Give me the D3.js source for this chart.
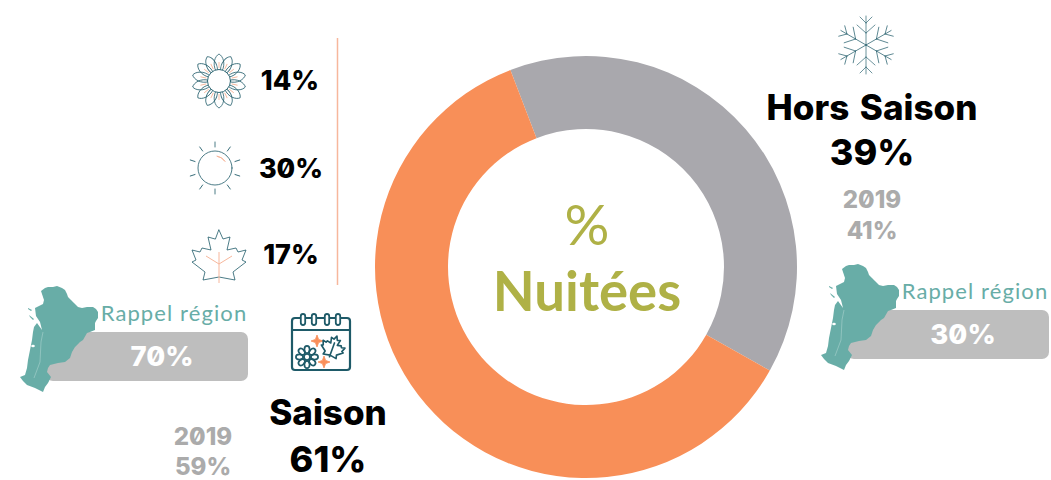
<!DOCTYPE html>
<html><head><meta charset="utf-8">
<script src="https://cdn.jsdelivr.net/npm/d3@7/dist/d3.min.js"></script>
<style>
html,body{margin:0;padding:0;background:#fff;overflow:hidden}
svg{display:block}
.h{font-family:Inter,sans-serif;font-weight:800;font-feature-settings:"zero" 1;text-anchor:middle}
</style></head><body><svg id="c" width="1051" height="480"></svg>
<script>
const segments = ["Hors Saison","Saison"];
const shares = [39,61];
const shares2019 = [41,59];
const regionShares = [30,70];
const segmentColors = ["#A9A8AD","#F88F58"];
const subSeasons = ["printemps","été","automne"];
const subShares = [14,30,17];
const centerLines = ["%","Nuitées"];
const regionLabel = "Rappel région";
const yearLabel = "2019";
const mapOutline = [[26,11],[30,8],[33,7],[38,7],[42,6],[47,8],[50,10],[52,14],[53,17],[56,20],[59,23],[63,27],[67,28],[72,27],[78,27],[81,29],[83,32],[83,38],[81,41],[80,43],[80,50],[75,52],[72,53],[68,60],[65,62],[60,67],[57,72],[55,78],[50,82],[43,83],[35,85],[33,88],[32,92],[36,97],[33,103],[30,107],[28,112],[24,110],[20,108],[12,105],[8,101],[5,97],[10,95],[12,88],[13,80],[15,70],[17,60],[18,52],[19,47],[22,43],[27,50],[25,42],[21,36],[20,28],[24,26],[28,24],[29,20]];
const islands = [[[13,28],[17,30],[16,31],[13,29]],[[14,35],[19,39],[18,40],[15,37]]];

const svg = d3.select("#c");
const TEAL="#1E5A68", SOFT="#F7B79C", MAP="#68ADA7", BAR="#BEBEBE", GREY="#ABABAB";

const cx=586, cy=267;
const pie=d3.pie().sort(null).startAngle(-21*Math.PI/180).endAngle(339*Math.PI/180);
const arc=d3.arc().innerRadius(138).outerRadius(211);
svg.append("g").attr("transform",`translate(${cx},${cy})`).selectAll("path").data(pie(shares)).join("path")
  .attr("d",arc).attr("fill",(d,i)=>segmentColors[i]);

function T(s,x,y,size,fill){return svg.append("text").attr("class","h").attr("x",x).attr("y",y).attr("font-size",size).attr("fill",fill).text(s);}
svg.append("text").attr("x",587).attr("y",245).attr("text-anchor","middle").attr("font-family","Lato").attr("font-weight",400).attr("font-size",56).attr("fill","#AFB146").text(centerLines[0]);
svg.append("text").attr("x",587).attr("y",311).attr("text-anchor","middle").attr("font-family","Lato").attr("font-weight",700).attr("font-size",54.5).attr("fill","#AFB146").text(centerLines[1]);

T(segments[0],872,120,35,"#000").attr("word-spacing",3);
T(shares[0]+"%",872,165,36,"#000");
T(segments[1],328,425,35,"#000");
T(shares[1]+"%",328,472,36,"#000");
T(yearLabel,872,208,24,GREY);
T(shares2019[0]+"%",872,239,24,GREY);
T(yearLabel,203,445,24,GREY);
T(shares2019[1]+"%",203,475,24,GREY);

[[290,90],[291,178],[291,264]].forEach((p,i)=>T(subShares[i]+"%",p[0],p[1],27,"#000"));
svg.append("line").attr("x1",337.5).attr("x2",337.5).attr("y1",38).attr("y2",285).attr("stroke",SOFT).attr("stroke-width",1.5);

const mapLine=d3.line();
[[1,0,0],[0,801,-22]].forEach(([i,dx,dy])=>{
  const g=svg.append("g").attr("transform",`translate(${dx},${dy})`);
  g.append("rect").attr("x",46).attr("y",332).attr("width",202).attr("height",49).attr("rx",7).attr("fill",BAR);
  const m=g.append("g").attr("transform","translate(15,280)");
  m.append("path").attr("d",mapLine(mapOutline)+"Z").attr("fill",MAP);
  islands.forEach(s=>m.append("path").attr("d",mapLine(s)+"Z").attr("fill",MAP));
  m.append("path").attr("d","M28 52L26 62 25 82 19 98").attr("fill","none").attr("stroke","#A9D2CE").attr("stroke-width",.6);
  m.append("ellipse").attr("cx",18).attr("cy",66).attr("rx",1.8).attr("ry",1.2).attr("fill","#fff");
  g.append("text").attr("x",174).attr("y",321).attr("text-anchor","middle").attr("font-family","Lato").attr("font-size",22).attr("letter-spacing",1.1).attr("fill",MAP).text(regionLabel);
  g.append("text").attr("class","h").attr("x",162).attr("y",366).attr("font-size",27.5).attr("fill","#fff").text(regionShares[i]+"%");
});

const thin=(g,w=1)=>g.attr("fill","none").attr("stroke",TEAL).attr("stroke-width",w).attr("stroke-linecap","round").attr("stroke-linejoin","round");
const leaf="M0 -27L4 -18 11 -20 8 -7 17 -9 19 -5 27 -7 23 3 27 5 14 15 16 23 0 20 -16 23 -14 15 -27 5 -23 3 -27 -7 -19 -5 -17 -9 -8 -7 -11 -20 -4 -18Z";
{const g=svg.append("g").attr("transform","translate(219,81)");
 d3.range(14).forEach(i=>{
  g.append("path").attr("transform",`rotate(${i*360/14})`).attr("d","M-3 -10C-7 -17 -4 -25 0 -27C4 -25 7 -17 3 -10").call(thin,.9).attr("opacity",.85);
 });
 d3.range(14).forEach(i=>{g.append("line").attr("transform",`rotate(${i*360/14})`).attr("y1",-13).attr("y2",-19).attr("stroke",SOFT).attr("stroke-width",.9);});
 g.append("circle").attr("r",11.5).call(thin,.9).attr("fill","#fff");}
{const g=svg.append("g").attr("transform","translate(215,168)");
 g.append("circle").attr("r",17).call(thin,.8);
 d3.range(10).forEach(i=>{g.append("line").attr("transform",`rotate(${i*36})`).attr("y1",-21).attr("y2",-26).call(thin,.8);});
 g.append("path").attr("d",d3.arc().innerRadius(12).outerRadius(12).startAngle(.15).endAngle(1)()).attr("fill","none").attr("stroke",SOFT).attr("stroke-width",1);}
{const g=svg.append("g").attr("transform","translate(219,257)");
 g.append("path").attr("d",leaf).call(thin,.8);
 g.append("path").attr("d","M0 -5V26M-13 -1L0 7 13 -1").attr("fill","none").attr("stroke",SOFT).attr("stroke-width",1);}
{const g=svg.append("g").attr("transform","translate(866,45)");
 d3.range(6).forEach(i=>{g.append("path").attr("transform",`rotate(${i*60})`).attr("d","M0 0V-29M0 -12L-9 -20M0 -12L9 -20M0 -22L-6 -28M0 -22L6 -28").call(thin,.65);});}
{const g=svg.append("g").attr("transform","translate(321,344)");
 g.append("rect").attr("x",-29).attr("y",-26).attr("width",58).attr("height",52).attr("rx",3).call(thin,2.2);
 g.append("line").attr("x1",-29).attr("x2",29).attr("y1",-14).attr("y2",-14).call(thin,2.2);
 [-18,-7,6,17].forEach(x=>g.append("rect").attr("x",x-2.2).attr("y",-30).attr("width",4.4).attr("height",11).attr("rx",2.2).call(thin,1.8).attr("fill","#fff"));
 [[-4,-3],[3,18]].forEach(([x,y])=>g.append("path").attr("transform",`translate(${x},${y})`).attr("d","M0 -6L1.6 -1.6 6 0 1.6 1.6 0 6 -1.6 1.6 -6 0 -1.6 -1.6Z").attr("stroke","#F98F5A").attr("stroke-width",.8).attr("fill","#F98F5A"));
 const f=g.append("g").attr("transform","translate(-14,13)");
 d3.range(8).forEach(i=>f.append("ellipse").attr("transform",`rotate(${i*45})`).attr("cy",-7.5).attr("rx",2.6).attr("ry",3.6).call(thin,1.7));
 f.append("circle").attr("r",3).call(thin,1.7);
 g.append("path").attr("transform","translate(12,3) scale(.43) rotate(20)").attr("d",leaf+"M0 -10V24").call(thin,3.8);
}
</script></body></html>
